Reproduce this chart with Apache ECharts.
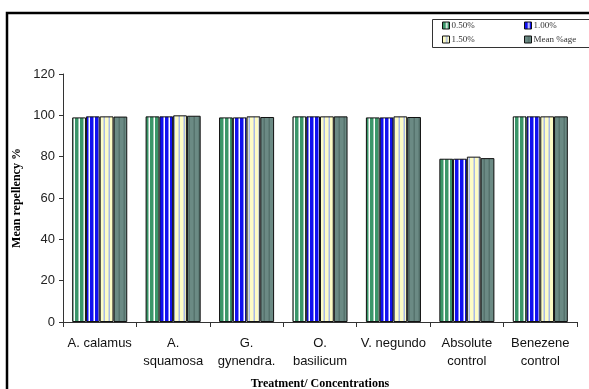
<!DOCTYPE html>
<html>
<head>
<meta charset="utf-8">
<script src="https://cdn.jsdelivr.net/npm/echarts@6/dist/echarts.min.js"></script>
<style>html,body{margin:0;padding:0;background:#fff}#c{width:589px;height:389px}</style>
</head>
<body>
<div id="c"></div>
<script>
var categories = ['A. calamus', 'A.\nsquamosa', 'G.\ngynendra.', 'O.\nbasilicum', 'V. negundo', 'Absolute\ncontrol', 'Benezene\ncontrol'];
var seriesNames = ['0.50%', '1.00%', '1.50%', 'Mean %age'];
var conc050 = [99.0, 99.5, 99.0, 99.5, 99.0, 79.0, 99.5];
var conc100 = [99.5, 99.5, 99.0, 99.5, 99.0, 79.0, 99.5];
var conc150 = [99.5, 100.0, 99.5, 99.5, 99.5, 80.0, 99.5];
var meanAge = [99.4, 99.8, 99.2, 99.5, 99.2, 79.3, 99.5];
var yTicks = [0, 20, 40, 60, 80, 100, 120];

function stripes(bg, fg, period, fgw) {
  var c = document.createElement('canvas');
  c.width = period; c.height = 4;
  var g = c.getContext('2d');
  g.fillStyle = bg; g.fillRect(0, 0, period, 4);
  g.fillStyle = fg; g.fillRect(period - fgw, 0, fgw, 4);
  return { image: c, repeat: 'repeat' };
}
var pats = [
  stripes('#3a9669', '#ffffff', 5, 1.5),
  stripes('#1010f0', '#ffffff', 5, 1.5),
  stripes('#fdfcc4', '#a8b8e8', 5, 1.5),
  stripes('#6b8a84', '#56736d', 5, 1.5)
];
var dataArr = [conc050, conc100, conc150, meanAge];

var chart = echarts.init(document.getElementById('c'), null, { renderer: 'canvas' });
var series = dataArr.map(function (d, i) {
  return {
    name: seriesNames[i], type: 'bar', data: d,
    barGap: '0%', barCategoryGap: '25%',
    itemStyle: { color: pats[i], borderColor: '#111', borderWidth: 1 },
    emphasis: { disabled: true }
  };
});
var legendPos = [[442, 21], [524, 21], [442, 35], [524, 35]];
var legends = seriesNames.map(function (n, i) {
  return {
    data: [n], left: legendPos[i][0], top: legendPos[i][1],
    itemWidth: 7, itemHeight: 7, itemGap: 0, padding: 0,
    icon: 'rect', selectedMode: false,
    textStyle: { fontFamily: 'Liberation Serif', fontSize: 9, color: '#333', padding: [0, 0, 0, -3] },
    itemStyle: { borderColor: '#111', borderWidth: 1 }
  };
});
chart.setOption({
  animation: false,
  grid: { left: 63, right: 12, top: 74, bottom: 67, outerBoundsMode: 'none', containLabel: false },
  legend: legends,
  graphic: [
    { type: 'polyline', shape: { points: [[7, 389], [7, 13], [589, 13]] }, style: { stroke: '#000', lineWidth: 2.5, fill: null } },
    { type: 'rect', shape: { x: 432.5, y: 19.5, width: 160, height: 28 }, style: { stroke: '#333', lineWidth: 1, fill: null } }
  ],
  xAxis: {
    type: 'category', data: categories,
    name: 'Treatment/ Concentrations', nameLocation: 'middle', nameGap: 56,
    nameTextStyle: { fontFamily: 'Liberation Serif', fontWeight: 'bold', fontSize: 12, color: '#000' },
    axisLine: { lineStyle: { color: '#333', width: 1 } },
    axisTick: { show: true, length: 5, alignWithLabel: false, lineStyle: { color: '#333' } },
    axisLabel: { fontFamily: 'Liberation Sans', fontSize: 13, color: '#111', lineHeight: 18, margin: 12, interval: 0 }
  },
  yAxis: {
    type: 'value', min: 0, max: 120, interval: 20,
    name: 'Mean repellency %', nameLocation: 'middle', nameGap: 40,
    nameTextStyle: { fontFamily: 'Liberation Serif', fontWeight: 'bold', fontSize: 12, color: '#000' },
    splitLine: { show: false },
    axisLine: { show: true, lineStyle: { color: '#333', width: 1 } },
    axisTick: { show: true, length: 4, lineStyle: { color: '#333' } },
    axisLabel: { fontFamily: 'Liberation Sans', fontSize: 13, color: '#222', margin: 8,
      formatter: function (v) { return yTicks.indexOf(v) >= 0 ? String(v) : ''; } }
  },
  series: series
});
</script>
</body>
</html>
